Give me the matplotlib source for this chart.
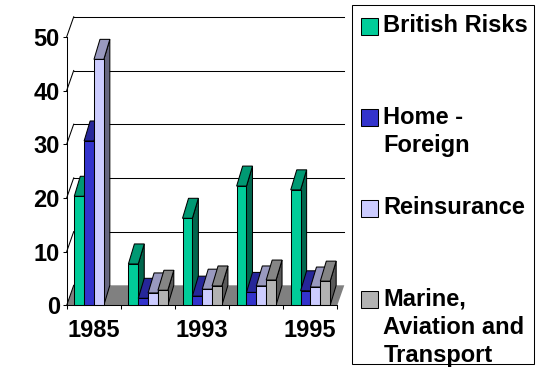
import matplotlib
matplotlib.use('Agg')
import matplotlib.pyplot as plt
from matplotlib.patches import Polygon, Rectangle
from matplotlib.colors import to_rgb

plt.rcParams['font.family'] = ['Liberation Sans', 'DejaVu Sans']
plt.rcParams['font.weight'] = 'bold'

categories = ['1985', '', '1993', '', '1995']
series_names = ['British Risks', 'Home -\nForeign', 'Reinsurance', 'Marine,\nAviation and\nTransport']
british = [20.3, 7.7, 16.2, 22.2, 21.5]
home_foreign = [30.6, 1.3, 1.7, 2.4, 2.7]
reinsurance = [45.8, 2.3, 3.0, 3.6, 3.4]
marine = [0, 2.8, 3.6, 4.7, 4.5]
y_ticks = [0, 10, 20, 30, 40, 50]

series = [british, home_foreign, reinsurance, marine]
colors = ['#00CC99', '#3333CC', '#CCCCFF', '#B2B2B2']

W, H = 552, 368
LW = 0.75
fig = plt.figure(figsize=(W / 100, H / 100), dpi=100)
ax = fig.add_axes([66.7 / W, 1 - 305.3 / H, (337.3 - 66.7) / W, (305.3 - 36.8) / H])
ax.set_xlim(0, len(categories))
ax.set_ylim(0, 50)

# fake 3d depth, in data units
dx = 7 / 54.1
dy = 20 / 5.37
bar_dx = 6 / 54.1
bar_w = 0.182
start = 0.14


def shade(c, f):
    return tuple(v * f for v in to_rgb(c))


# floor
ax.add_patch(Polygon([(0, 0), (5, 0), (5 + dx, dy), (dx, dy)], closed=True, fc='#808080', ec='none',
                     clip_on=False, zorder=1))

# gridlines on the back wall and the slanted bits on the left
for t in y_ticks:
    if t > 0:
        ax.plot([dx, 5 + dx], [t + dy, t + dy], color='black', lw=LW, clip_on=False, zorder=1.5)
    ax.plot([0, dx], [t, t + dy], color='black', lw=LW, clip_on=False, zorder=1.5)

z = 2
for i in range(len(categories)):
    for j, vals in enumerate(series):
        v = vals[i]
        if v <= 0:
            continue
        x0 = i + start + j * bar_w
        x1 = x0 + bar_w
        c = colors[j]
        ax.add_patch(Polygon([(x1, 0), (x1 + bar_dx, dy), (x1 + bar_dx, v + dy), (x1, v)], closed=True,
                             fc=shade(c, 0.5), ec='black', lw=LW, clip_on=False, zorder=z))
        ax.add_patch(Polygon([(x0, v), (x1, v), (x1 + bar_dx, v + dy), (x0 + bar_dx, v + dy)], closed=True,
                             fc=shade(c, 0.75), ec='black', lw=LW, clip_on=False, zorder=z))
        ax.add_patch(Rectangle((x0, 0), bar_w, v, fc=c, ec='black', lw=LW, clip_on=False, zorder=z))
        z += 1

for s in ['top', 'right']:
    ax.spines[s].set_visible(False)
for s in ['left', 'bottom']:
    ax.spines[s].set_linewidth(LW)
    ax.spines[s].set_zorder(50)

ax.set_yticks(y_ticks)
ax.set_yticklabels([str(t) for t in y_ticks], fontsize=17, fontweight='bold')
ax.set_xticks(range(len(categories) + 1))
ax.set_xticklabels([])
ax.set_xticks([i + 0.5 for i in range(len(categories))], minor=True)
ax.set_xticklabels(categories, minor=True, fontsize=17, fontweight='bold')
ax.tick_params(axis='both', which='major', length=3, width=LW)
ax.tick_params(axis='y', pad=2)
ax.tick_params(axis='x', which='minor', length=0, pad=10)

# legend box, done by hand because the rows are evenly spaced whatever their height
legend_ax = fig.add_axes([0, 0, 1, 1], facecolor='none')
legend_ax.set_xlim(0, W)
legend_ax.set_ylim(H, 0)
legend_ax.axis('off')
legend_ax.add_patch(Rectangle((352.3, 5.3), 182, 358.7, fc='white', ec='black', lw=LW))
swatch_y = [18.3, 109.3, 200.3, 291.3]
for name, c, y in zip(series_names, colors, swatch_y):
    legend_ax.add_patch(Rectangle((361.3, y), 16.5, 16.2, fc=c, ec='black', lw=LW))
    legend_ax.text(383.3, y - 3.8, name, fontsize=17, fontweight='bold', va='top', ha='left',
                   linespacing=1.28)

fig.savefig('out.png', dpi=100)
